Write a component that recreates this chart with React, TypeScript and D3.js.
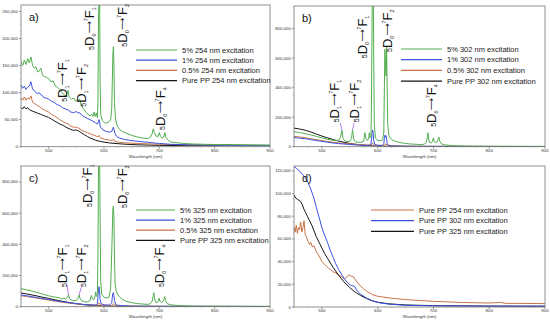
import React from 'react';
import * as d3 from 'd3';

type Pt = [number, number];

// ---------- tick values ----------
const xTicks = [500, 600, 700, 800, 900];
const yTicksA = [0, 50, 100, 150, 200, 250];
const yTicksB = [0, 200, 400, 600, 800];
const yTicksC = [0, 200, 400, 600, 800];
const yTicksD = [0, 20, 40, 60, 80, 100, 120];

// ---------- legend labels ----------
const legendA = ['5% 254 nm excitation', '1% 254 nm excitation', '0.5% 254 nm excitation', 'Pure PP 254 nm excitation'];
const legendB = ['5% 302 nm excitation', '1% 302 nm excitation', '0.5% 302 nm excitation', 'Pure PP 302 nm excitation'];
const legendC = ['5% 325 nm excitation', '1% 325 nm excitation', '0.5% 325 nm excitation', 'Pure PP 325 nm excitation'];
const legendD = ['Pure PP 254 nm excitation', 'Pure PP 302 nm excitation', 'Pure PP 325 nm excitation'];

// ---------- data (wavelength nm, intensity in thousands) ----------
// panel a: 254 nm
const a5: Pt[] = [[450,158],[453,150],[456,160],[459,152],[462,163],[465,155],[468,166],[471,150],[474,145],[477,148],[480,138],[483,140],[486,145],[489,132],[492,130],[496,128],[500,126],[504,120],[508,122],[512,112],[516,110],[520,106],[524,100],[528,96],[532,94],[535,104],[537,92],[541,88],[545,90],[549,84],[553,86],[556,88],[559,76],[563,70],[567,64],[571,60],[575,57],[578,60],[580,56],[582,64],[584,56],[586,62],[588,54],[589,80],[590,220],[591,300],[592,300],[593,120],[594,60],[597,48],[601,44],[605,44],[609,46],[612,50],[614,70],[615,120],[616,170],[617,185],[618,150],[619,80],[621,50],[624,38],[628,32],[633,28],[640,25],[650,21],[660,18],[670,16],[680,15],[684,18],[687,24],[689,33],[691,26],[694,20],[697,18],[700,26],[702,19],[705,16],[708,18],[710,26],[712,17],[716,12],[720,9],[730,7.5],[745,6],[760,5],[780,4.5],[800,4],[820,3.8],[850,3.5],[875,3.2],[900,3]];
const a1: Pt[] = [[450,114],[453,108],[456,112],[459,106],[462,110],[465,112],[468,120],[471,106],[474,104],[477,100],[480,98],[483,100],[486,96],[489,94],[492,90],[496,90],[500,88],[505,84],[510,82],[515,78],[520,76],[525,72],[530,70],[535,68],[540,64],[545,63],[550,65],[553,62],[556,63],[560,58],[565,55],[570,52],[575,50],[580,47],[585,44],[588,42],[590,46],[591,50],[592,46],[593,38],[595,34],[600,30],[605,28],[610,27],[614,28],[616,34],[617,36],[618,32],[620,24],[623,19],[628,16],[635,14],[645,12],[660,10],[680,8],[700,6],[720,4.5],[750,3.5],[800,3],[850,2.5],[900,2.2]];
const a05: Pt[] = [[450,90],[453,86],[456,92],[459,86],[462,90],[465,88],[468,94],[471,82],[474,80],[477,78],[480,76],[484,74],[488,70],[492,68],[496,66],[500,64],[505,60],[510,57],[515,54],[520,50],[525,47],[530,44],[535,42],[540,38],[545,36],[550,36],[555,34],[560,30],[565,28],[570,26],[575,24],[580,22],[585,20],[589,18],[591,21],[592,19],[594,16],[600,14],[610,12],[615,12],[617,14],[619,10],[625,8.5],[640,7],[660,6],[700,4.5],[750,3.5],[800,3],[900,2.5]];
const aPP: Pt[] = [[450,72],[453,70],[456,74],[459,70],[462,72],[466,68],[470,66],[475,64],[480,62],[485,60],[490,58],[495,56],[500,54],[505,51],[510,48],[515,45],[520,42],[525,40],[530,37],[535,34],[540,32],[545,30],[548,31],[552,30],[556,28],[560,25],[565,22],[570,19],[575,16],[580,14],[585,12],[590,10.5],[595,9.5],[600,8.5],[610,7],[620,6],[640,4.5],[660,3.5],[700,2.5],[750,2],[800,2],[815,2.3],[822,4],[828,2.5],[850,2],[900,1.8]];

// panel b: 302 nm
const b5: Pt[] = [[450,102],[460,96],[470,88],[480,80],[490,70],[500,60],[510,50],[520,44],[525,42],[530,44],[533,60],[536,110],[538,55],[541,40],[545,35],[550,36],[553,55],[555,115],[557,50],[560,34],[565,30],[570,30],[575,38],[577,95],[579,55],[582,42],[584,60],[585,95],[586,60],[588,70],[589,300],[590,900],[591,1100],[592,1100],[593,600],[594,150],[596,60],[600,42],[605,40],[609,46],[611,100],[612,400],[613,660],[614,560],[615,480],[616,680],[617,420],[618,150],[620,80],[623,55],[627,45],[633,35],[640,28],[650,22],[660,18],[670,16],[680,14],[684,18],[687,30],[689,60],[690,95],[691,60],[693,30],[696,25],[698,35],[700,60],[701,35],[704,28],[707,35],[709,60],[710,65],[711,40],[714,20],[720,12],[740,6],[760,4],[800,3],[850,2.5],[900,2]];
const b1: Pt[] = [[450,62],[460,58],[470,54],[480,48],[490,42],[500,36],[510,30],[520,25],[530,21],[540,18],[550,15],[560,12],[570,10],[580,9],[585,10],[588,18],[589,50],[590,95],[591,113],[592,90],[593,40],[595,15],[600,9],[608,8],[611,20],[612,55],[613,78],[614,65],[615,75],[616,50],[617,20],[619,10],[625,6],[640,4],[660,3],[700,2.5],[750,2],[800,1.5],[900,1.2]];
const b05: Pt[] = [[450,70],[460,66],[470,61],[480,55],[490,48],[500,42],[510,36],[520,30],[530,26],[540,22],[550,19],[560,16],[570,14],[580,12],[588,11],[590,18],[591,24],[592,18],[594,11],[600,10],[610,9],[613,12],[615,18],[617,12],[620,8],[630,6],[650,4],[700,3],[800,2],[900,1.5]];
const bPP: Pt[] = [[450,126],[460,120],[470,112],[480,100],[490,86],[500,72],[510,60],[520,48],[530,38],[540,30],[550,22],[555,19],[560,17],[570,12],[580,8.5],[590,5.5],[600,4],[620,2.5],[650,1.5],[700,1],[800,0.8],[900,0.8]];

// panel c: 325 nm
const c5: Pt[] = [[450,116],[460,108],[470,100],[480,90],[490,80],[500,70],[510,62],[515,60],[520,55],[525,50],[528,55],[530,48],[533,58],[536,75],[538,50],[541,42],[545,38],[550,40],[553,55],[555,75],[557,50],[560,38],[565,32],[570,30],[575,40],[577,72],[579,50],[582,45],[584,70],[585,95],[586,65],[588,80],[589,300],[590,850],[591,1000],[592,1000],[593,550],[594,160],[596,80],[600,60],[605,55],[609,60],[612,120],[614,350],[616,620],[617,645],[618,560],[619,300],[620,150],[622,100],[625,75],[629,60],[634,45],[640,35],[650,26],[660,20],[670,17],[680,15],[684,20],[687,35],[689,70],[690,90],[691,60],[693,30],[696,25],[698,35],[700,55],[701,35],[704,28],[707,35],[709,55],[710,65],[711,40],[714,20],[720,12],[740,6],[760,4],[800,3],[850,2.5],[900,2]];
const c1: Pt[] = [[450,75],[460,70],[470,64],[480,58],[490,52],[500,46],[510,40],[520,34],[530,29],[540,24],[550,20],[560,16],[570,13],[580,11],[586,11],[588,20],[589,60],[590,110],[591,128],[592,100],[593,45],[595,18],[600,12],[610,10],[614,25],[615,60],[616,85],[617,90],[618,70],[619,40],[621,15],[625,9],[635,6],[650,4],[700,3],[800,2],[900,1.5]];
const c05: Pt[] = [[450,70],[460,65],[470,60],[480,54],[490,48],[500,42],[510,36],[520,31],[530,26],[540,22],[550,18],[560,15],[570,12],[580,10],[588,9],[590,18],[591,25],[592,18],[594,10],[600,8],[614,8],[616,15],[617,20],[618,14],[620,8],[630,5],[650,3.5],[700,2.5],[800,2],[900,1.5]];
const cPP: Pt[] = [[450,88],[460,82],[470,75],[480,68],[490,60],[500,53],[510,45],[520,38],[530,31],[540,25],[550,19],[560,14],[570,10.5],[580,8],[590,6],[600,4.5],[620,3],[650,2],[700,1.2],[800,0.8],[900,0.6]];

// panel d: pure PP
const d254: Pt[] = [[450,70],[452,66],[454,72],[456,65],[458,70],[460,68],[462,75],[464,66],[466,70],[468,76],[470,64],[472,62],[475,58],[478,55],[480,57],[483,53],[486,54],[489,50],[492,47],[495,45],[498,42],[500,40],[504,38],[508,36],[512,34],[516,33],[520,31],[525,30],[530,28],[535,27],[540,25],[544,26],[547,28],[550,28],[553,27],[556,27],[560,24],[565,21],[570,18],[575,16],[580,14],[590,11],[600,9.5],[620,8],[650,6.5],[700,5],[750,4],[800,3.5],[820,4],[830,3.2],[850,3.2],[900,3]];
const d302: Pt[] = [[450,124],[455,122],[460,120],[465,117],[470,114],[475,110],[480,104],[485,97],[490,88],[495,79],[500,70],[505,63],[510,57],[515,50],[520,44],[525,38],[530,33],[535,29],[540,25],[545,22],[550,19.5],[553,19],[556,18.5],[559,18],[562,15],[566,13],[570,11],[580,8],[590,5.5],[600,4],[620,2.5],[650,1.5],[700,1],[800,0.8],[900,0.8]];
const d325: Pt[] = [[450,99],[453,96],[456,95],[459,94],[462,93],[465,90],[468,86],[471,83],[474,80],[478,76],[482,72],[486,67],[490,62],[495,57],[500,52],[505,47],[510,43],[520,35],[530,28],[540,22],[550,17],[560,13],[570,10],[580,7.5],[590,5.5],[600,4.2],[620,2.8],[650,1.8],[700,1.2],[800,0.8],[900,0.6]];

// ---------- annotations: [nm, value(k) at text start, lower sub, upper sub] ----------
type Ann = [number, number, string, string];
const annA: Ann[] = [[533, 83, '1', '1'], [567, 74, '1', '2'], [582, 179, '0', '1'], [642, 185, '0', '2'], [710, 31, '0', '4']];
const annB: Ann[] = [[531, 165, '1', '1'], [566, 165, '1', '2'], [581, 600, '0', '1'], [626, 642, '0', '2'], [705, 135, '0', '4']];
const annC: Ann[] = [[533, 126, '1', '1'], [567, 126, '1', '2'], [578, 639, '0', '1'], [642, 633, '0', '2'], [708, 126, '0', '4']];
const connB: Pt[][] = [[[533, 160], [536, 110]], [[558, 160], [555, 115]]];
const connC: Pt[][] = [[[533, 140], [536, 75]], [[559, 125], [555, 75]]];

const GREEN = '#52ad4e';
const BLUE = '#3a52de';
const ORANGE = '#c87447';
const BLACK = '#151515';
const FONT = 'Liberation Sans, Arial, Helvetica, sans-serif';

interface PanelCfg {
  id: string;
  label: string;
  x0: number; x1: number; y0: number; y1: number;
  yMax: number;
  yTicks: number[];
  series: { data: Pt[]; color: string }[];
  legend: { text: string; color: string }[];
  legendX: number; legendY: number; legendLine: number; legendGap: number;
  ann: Ann[];
  conn: Pt[][];
}

const fmt = d3.format(',');

function Annotation({ x, y, s1, s2 }: { x: number; y: number; s1: string; s2: string }) {
  return (
    <text transform={`translate(${x},${y}) rotate(-90)`} fontFamily={FONT} fill="#111">
      <tspan fontSize={7}>5</tspan>
      <tspan fontSize={13}>D</tspan>
      <tspan fontSize={5.5} dy={2}>{s1}</tspan>
      <tspan fontSize={8.5} dy={-4} fontFamily="DejaVu Sans">⟶</tspan>
      <tspan fontSize={5.5} dy={-4}>7</tspan>
      <tspan fontSize={13} dy={6}>F</tspan>
      <tspan fontSize={5.5} dy={2}>{s2}</tspan>
    </text>
  );
}

function Panel({ cfg }: { cfg: PanelCfg }) {
  const xs = d3.scaleLinear().domain([450, 900]).range([cfg.x0, cfg.x1]);
  const ys = d3.scaleLinear().domain([0, cfg.yMax]).range([cfg.y1, cfg.y0]);
  const line = d3.line<Pt>().x(d => xs(d[0])).y(d => ys(d[1]));
  const clipId = `clip-${cfg.id}`;
  const minorX = d3.range(450, 901, 25).filter(v => !xTicks.includes(v));
  const step = cfg.yTicks[1] - cfg.yTicks[0];
  const minorY = d3.range(0, cfg.yMax, step / 4).filter(v => !cfg.yTicks.some(t => Math.abs(t - v) < 1e-6));
  return (
    <g>
      <defs>
        <clipPath id={clipId}>
          <rect x={cfg.x0} y={cfg.y0} width={cfg.x1 - cfg.x0} height={cfg.y1 - cfg.y0} />
        </clipPath>
      </defs>
      <g clipPath={`url(#${clipId})`}>
        {cfg.series.map((s, i) => (
          <path key={i} d={line(s.data) || ''} fill="none" stroke={s.color} strokeWidth={1} strokeLinejoin="round" />
        ))}
        {cfg.conn.map((c, i) => (
          <path key={'c' + i} d={line(c) || ''} fill="none" stroke="#a060e0" strokeWidth={0.8} />
        ))}
      </g>
      <rect x={cfg.x0} y={cfg.y0} width={cfg.x1 - cfg.x0} height={cfg.y1 - cfg.y0} fill="none" stroke="#777" strokeWidth={0.8} />
      {cfg.yTicks.map(t => (
        <g key={'y' + t}>
          <line x1={cfg.x0 - 2} x2={cfg.x0} y1={ys(t)} y2={ys(t)} stroke="#555" strokeWidth={0.6} />
          <text x={cfg.x0 - 3} y={ys(t) + 1.5} fontSize={4.4} textAnchor="end" fontFamily={FONT} fill="#333">{fmt(t * 1000)}</text>
        </g>
      ))}
      {minorY.map(t => (
        <line key={'my' + t} x1={cfg.x0 - 1} x2={cfg.x0} y1={ys(t)} y2={ys(t)} stroke="#777" strokeWidth={0.4} />
      ))}
      {xTicks.map(t => (
        <g key={'x' + t}>
          <line x1={xs(t)} x2={xs(t)} y1={cfg.y1} y2={cfg.y1 + 2} stroke="#555" strokeWidth={0.6} />
          <text x={xs(t)} y={cfg.y1 + 5} fontSize={4.4} textAnchor="middle" fontFamily={FONT} fill="#333">{t}</text>
        </g>
      ))}
      {minorX.map(t => (
        <line key={'mx' + t} x1={xs(t)} x2={xs(t)} y1={cfg.y1} y2={cfg.y1 + 1} stroke="#777" strokeWidth={0.4} />
      ))}
      <text x={(cfg.x0 + cfg.x1) / 2} y={cfg.y1 + 11} fontSize={4.4} textAnchor="middle" fontFamily={FONT} fill="#333">Wavelength (nm)</text>
      <text x={cfg.x0 + 8} y={cfg.y0 + 16} fontSize={11} fontFamily={FONT} fill="#111">{cfg.label}</text>
      {cfg.legend.map((l, i) => (
        <g key={'l' + i}>
          <line x1={cfg.legendX} x2={cfg.legendX + cfg.legendLine} y1={cfg.legendY + i * cfg.legendGap} y2={cfg.legendY + i * cfg.legendGap} stroke={l.color} strokeWidth={1.2} />
          <text x={cfg.legendX + cfg.legendLine + 5} y={cfg.legendY + i * cfg.legendGap + 2.7} fontSize={7.5} fontFamily={FONT} fill="#1a1a1a">{l.text}</text>
        </g>
      ))}
      {cfg.ann.map((a, i) => (
        <Annotation key={'a' + i} x={xs(a[0])} y={ys(a[1])} s1={a[2]} s2={a[3]} />
      ))}
    </g>
  );
}

const colors4 = [GREEN, BLUE, ORANGE, BLACK];

export default function App() {
  const panels: PanelCfg[] = [
    {
      id: 'a', label: 'a)', x0: 21, x1: 270, y0: 5, y1: 146.7, yMax: 262, yTicks: yTicksA,
      series: [{ data: aPP, color: BLACK }, { data: a05, color: ORANGE }, { data: a1, color: BLUE }, { data: a5, color: GREEN }],
      legend: legendA.map((t, i) => ({ text: t, color: colors4[i] })),
      legendX: 136, legendY: 50, legendLine: 41, legendGap: 10.2,
      ann: annA, conn: [],
    },
    {
      id: 'b', label: 'b)', x0: 294, x1: 545, y0: 6, y1: 146.7, yMax: 954, yTicks: yTicksB,
      series: [{ data: bPP, color: BLACK }, { data: b05, color: ORANGE }, { data: b1, color: BLUE }, { data: b5, color: GREEN }],
      legend: legendB.map((t, i) => ({ text: t, color: colors4[i] })),
      legendX: 401, legendY: 49, legendLine: 41, legendGap: 10.7,
      ann: annB, conn: connB,
    },
    {
      id: 'c', label: 'c)', x0: 21, x1: 270, y0: 166, y1: 306.7, yMax: 902, yTicks: yTicksC,
      series: [{ data: cPP, color: BLACK }, { data: c05, color: ORANGE }, { data: c1, color: BLUE }, { data: c5, color: GREEN }],
      legend: legendC.map((t, i) => ({ text: t, color: colors4[i] })),
      legendX: 136, legendY: 210, legendLine: 39, legendGap: 10.1,
      ann: annC, conn: connC,
    },
    {
      id: 'd', label: 'd)', x0: 294, x1: 545, y0: 166, y1: 307, yMax: 124.3, yTicks: yTicksD,
      series: [{ data: d254, color: ORANGE }, { data: d325, color: BLACK }, { data: d302, color: BLUE }],
      legend: legendD.map((t, i) => ({ text: t, color: [ORANGE, BLUE, BLACK][i] })),
      legendX: 371, legendY: 210, legendLine: 43, legendGap: 10.7,
      ann: [], conn: [],
    },
  ];
  return (
    <svg width={550} height={325} style={{ position: 'absolute', left: 0, top: 0, background: '#fff' }}>
      <rect width={550} height={325} fill="#fff" />
      {panels.map(p => <Panel key={p.id} cfg={p} />)}
    </svg>
  );
}
